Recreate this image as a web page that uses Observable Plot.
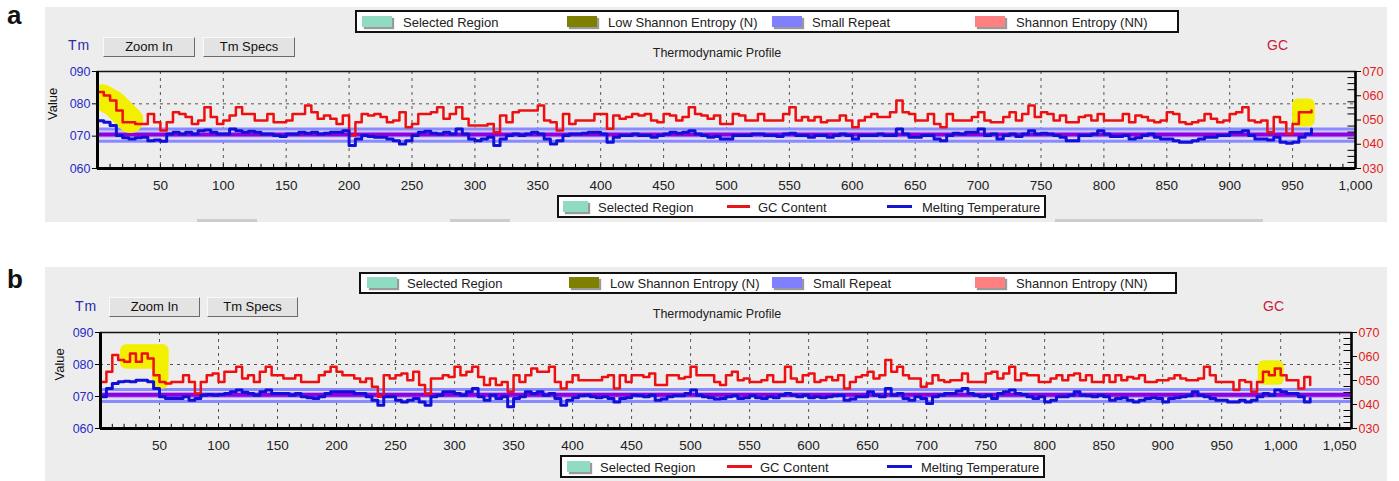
<!DOCTYPE html>
<html><head><meta charset="utf-8">
<script src="https://cdn.jsdelivr.net/npm/d3@7"></script>
<script src="https://cdn.jsdelivr.net/npm/@observablehq/plot@0.6"></script>
<style>
body{margin:0;background:#fff;}
#root{position:relative;width:1399px;height:481px;overflow:hidden;font-family:"Liberation Sans",Arial,sans-serif;}
.panel{position:absolute;background:#ededed;}
.legend{position:absolute;background:#fff;border:2px solid #111;box-sizing:border-box;}
.sw{position:absolute;height:11px;box-shadow:2px 2px 1px #9a9a9a;}
.ln{position:absolute;height:3px;}
.lt{position:absolute;font-size:13px;color:#222;line-height:1;white-space:nowrap;transform:translateY(-50%);}
.btn{position:absolute;height:20px;box-sizing:border-box;background:#e3e3e3;border:1px solid;border-color:#fafafa #6a6a6a #6a6a6a #fafafa;font-size:13px;text-align:center;line-height:18px;color:#111;}
.letter{position:absolute;font-size:26px;font-weight:bold;line-height:1;color:#111;}
.strip{position:absolute;height:3px;background:#cdcdcd;}
</style></head><body><div id="root"></div>
<script>
// ---------- data ----------
const STEP = 5; // sequence positions are sampled every 5 bases
const tmTicks = [60, 70, 80, 90];
const gcTicks = [30, 40, 50, 60, 70];
const xTicksA = [50,100,150,200,250,300,350,400,450,500,550,600,650,700,750,800,850,900,950,1000];
const xTicksB = [50,100,150,200,250,300,350,400,450,500,550,600,650,700,750,800,850,900,950,1000,1050];

const gcA = [61.5,60.1,58.0,53.9,49.1,49.1,48.4,48.4,52.5,49.1,
45.7,49.1,53.2,52.5,51.2,48.4,49.8,55.3,51.2,48.4,
49.8,51.9,55.3,52.5,52.5,49.8,49.8,52.5,49.1,49.1,
49.8,52.5,52.5,56.0,53.2,50.5,51.9,50.5,48.4,51.9,
43.6,49.1,52.5,51.9,52.5,51.2,49.1,49.8,53.2,47.0,
48.4,52.5,52.5,53.2,55.3,50.5,52.5,55.3,50.5,47.7,
47.7,47.7,48.4,45.0,51.9,49.1,53.2,53.9,53.9,53.9,
56.0,49.8,49.1,45.7,52.5,48.4,49.8,49.8,49.8,52.5,
52.5,46.4,51.9,50.5,51.2,52.5,51.9,52.5,49.8,49.1,
52.5,51.9,49.8,51.2,55.3,52.5,51.9,50.5,51.9,48.4,
48.4,52.5,51.9,49.8,49.8,52.5,49.8,49.8,49.8,52.5,
55.3,49.8,51.2,49.8,51.2,49.1,49.8,49.8,51.9,49.8,
47.0,49.8,51.2,52.5,51.2,51.2,53.2,58.0,53.2,52.5,
49.8,49.8,52.5,48.4,47.0,52.5,49.8,49.8,49.8,51.2,
53.2,49.8,49.1,49.1,51.2,53.2,49.8,52.5,56.0,51.2,
53.2,52.5,49.8,51.9,49.1,49.1,51.2,51.9,49.8,52.5,
49.8,49.8,49.8,52.5,49.1,51.9,51.2,49.8,49.1,49.8,
53.2,52.5,49.1,48.4,49.1,49.8,52.5,50.5,49.1,49.8,
52.5,53.2,55.3,49.8,49.1,49.8,45.0,51.2,49.1,44.3,
48.4,53.2,53.2,53.9];

const tmA = [74.8,74.3,73.3,70.2,69.5,69.1,69.5,69.7,68.6,68.8,
68.4,70.7,71.2,70.7,71.2,70.7,71.7,71.9,71.2,70.7,
70.7,72.2,71.7,71.2,71.5,71.2,70.7,70.7,70.2,69.9,
70.7,70.7,71.2,70.9,71.2,70.7,70.9,71.2,71.2,71.7,
67.1,69.1,70.2,69.9,69.7,69.7,69.1,68.6,67.6,68.6,
70.2,71.2,71.5,70.9,70.7,71.2,70.7,72.2,70.7,69.1,
68.6,69.1,69.7,67.1,69.1,70.2,70.7,70.2,70.7,71.2,
70.7,69.1,67.6,68.6,70.2,70.7,70.7,70.9,71.2,71.2,
70.7,68.1,69.7,70.2,70.2,70.7,70.2,70.2,69.7,70.2,
70.7,71.2,70.9,71.2,71.7,70.7,70.2,69.7,69.9,69.1,
69.1,70.2,70.2,70.2,70.7,70.7,70.2,70.2,69.9,70.7,
70.9,70.2,70.2,69.7,70.2,70.2,69.7,70.2,70.7,70.2,
69.1,70.2,70.2,70.2,70.7,70.2,70.2,72.2,70.7,69.7,
69.7,70.2,70.2,69.1,68.6,70.2,70.9,70.7,71.2,71.2,
72.2,70.2,70.7,69.1,70.2,70.7,69.9,70.7,71.7,70.7,
70.9,70.7,70.2,69.7,68.6,68.6,70.2,70.2,70.7,71.7,
70.7,69.9,69.9,70.2,69.1,69.5,70.2,70.7,69.7,69.1,
69.1,68.6,68.1,68.1,68.6,69.1,69.7,69.7,70.2,70.2,
71.2,71.2,71.7,70.2,69.1,69.1,68.8,69.7,68.1,67.8,
68.1,69.7,70.7,72.2];

const gcB = [49.4,53.6,60.6,58.5,57.8,61.3,57.8,61.3,59.2,52.2,
49.4,48.8,49.4,49.4,52.2,49.4,44.6,49.4,52.2,52.9,
49.4,53.6,53.6,55.7,50.8,52.2,49.4,53.6,55.7,52.2,
52.2,50.8,50.8,52.2,49.4,49.4,49.4,52.2,53.6,55.7,
53.6,52.2,52.2,50.8,49.4,50.8,47.4,43.2,52.2,50.8,
52.2,52.9,50.1,53.6,48.1,44.6,50.8,50.8,52.2,51.5,
55.7,52.2,53.6,55.7,51.5,48.1,50.8,48.1,49.4,45.3,
52.2,49.4,52.2,55.0,53.6,53.6,55.7,49.4,46.7,49.4,
52.2,50.1,50.1,50.1,50.1,51.5,52.2,46.7,52.2,49.4,
52.2,52.2,51.5,52.9,48.1,48.1,52.2,52.2,50.8,51.5,
55.7,52.2,52.2,52.2,49.4,48.1,52.2,53.6,50.1,50.8,
49.4,49.4,50.1,52.2,49.4,49.4,55.7,50.8,49.4,52.2,
52.9,49.4,50.1,51.5,50.1,52.2,46.7,49.4,51.5,52.2,
53.6,50.8,52.2,58.5,53.6,55.7,52.2,50.8,50.8,47.4,
48.8,52.2,50.1,49.4,50.1,50.1,52.9,49.4,49.4,49.4,
52.9,53.6,50.8,52.9,55.7,50.1,52.9,52.2,52.2,49.4,
49.4,50.8,52.2,50.1,52.2,52.9,50.1,52.2,49.4,49.4,
52.2,49.4,52.2,50.1,51.5,50.8,52.2,49.4,49.4,50.1,
50.1,50.8,52.2,50.8,50.1,50.1,50.8,55.7,52.2,49.4,
49.4,49.4,46.0,50.1,49.4,45.3,49.4,53.6,52.2,55.0,
52.2,50.1,50.1,46.7,51.5,48.1];

const tmB = [69.9,72.5,74.1,74.6,74.8,74.6,75.1,75.1,74.6,72.5,
69.9,69.4,69.4,69.4,69.9,68.8,69.4,70.4,70.6,70.4,
70.6,70.9,71.5,72.0,71.3,70.9,70.4,71.5,72.0,70.9,
70.9,70.9,70.4,70.9,69.9,69.6,69.4,69.9,70.9,71.5,
71.5,71.5,71.5,70.9,70.9,69.9,68.8,67.3,69.9,69.9,
68.8,68.3,68.8,69.4,68.3,67.3,69.9,70.4,71.5,71.5,
70.9,70.4,71.5,72.5,69.9,68.8,70.4,69.4,69.9,66.8,
69.4,69.9,71.5,70.9,71.5,70.4,70.9,69.4,67.3,68.8,
69.6,70.2,70.4,69.9,69.6,69.9,69.4,68.3,69.4,69.6,
70.4,70.2,69.9,70.4,68.8,69.2,69.9,70.2,70.2,70.9,
72.0,70.4,69.9,69.6,69.2,69.4,69.9,70.2,69.4,69.6,
70.2,69.6,69.4,69.9,69.6,70.4,70.9,70.4,69.9,70.4,
69.6,69.9,69.6,69.9,70.2,70.4,68.8,69.2,69.9,69.9,
71.5,70.4,69.9,72.5,70.4,70.9,69.4,68.8,69.9,69.4,
67.8,69.9,70.4,70.9,70.9,71.7,72.5,70.9,70.4,69.9,
70.4,69.4,70.9,71.5,72.0,70.9,70.6,69.9,69.4,69.9,
68.3,68.8,69.9,69.9,70.4,71.5,70.4,70.2,69.9,70.4,
69.9,68.8,69.4,69.6,68.8,68.3,68.8,69.4,69.6,69.4,
68.3,69.4,69.6,69.9,70.2,71.5,70.4,69.9,69.4,68.8,
68.8,68.3,68.3,68.8,68.3,68.8,69.9,70.9,70.4,72.0,
71.5,70.9,70.9,69.9,68.3,69.4];

// Tm specification band (Tm units)
const bandEdges = [72.2, 68.4];
const bandCore = [69.6, 71.1];
// yellow highlighter marks (x in bases, y in Tm units)
const smearA = [[4, 82], [13, 80], [26, 75]];
const boxesA = [[950, 968, 72.8, 81.5]];
const boxesB = [[17, 58, 78.5, 86.2], [44, 58, 72.3, 86.2], [981, 1003, 73.5, 81.2]];

const legendTopNames = ["Selected Region", "Low Shannon Entropy (N)", "Small Repeat", "Shannon Entropy (NN)"];
const legendTopColors = ["#8fdcc2", "#808000", "#8080ff", "#ff8080"];
const legendBottomNames = ["Selected Region", "GC Content", "Melting Temperature"];
const legendBottomColors = ["#8fdcc2", "#e8141c", "#1414d0"];

// ---------- layout ----------
const layoutA = {
  letter: ["a", 7, 2], panel: [45, 7, 1342, 215],
  svg: {left: 45, top: 7, w: 1342, h: 215, ml: 52, mr: 32, mt: 64, mb: 54, valueDx: -45},
  xMax: 1000, xTicks: xTicksA, gc: gcA, tm: tmA, smear: smearA, boxes: boxesA,
  top: {box: [355, 10, 824, 23], sw: [362, 567, 772, 975], tx: [403, 608, 812, 1016]},
  tmLabel: [68, 45], btn: [[103, 37, 92], [203, 37, 92]], title: [717, 53], gcLabel: [1267, 45],
  bottom: {box: [557, 195, 489, 23], sw: [563, 588], red: [727, 750], blue: [887, 912], tx: [598, 758, 922]},
  strips: [[197, 257], [450, 510], [1055, 1263]], stripY: 219
};
const layoutB = {
  letter: ["b", 7, 266], panel: [45, 267, 1342, 214],
  svg: {left: 45, top: 267, w: 1342, h: 214, ml: 55, mr: 36, mt: 65, mb: 53, valueDx: -41},
  xMax: 1060, xTicks: xTicksB, gc: gcB, tm: tmB, smear: null, boxes: boxesB,
  top: {box: [359, 272, 818, 22], sw: [367, 569, 772, 975], tx: [407, 610, 813, 1016]},
  tmLabel: [75, 306], btn: [[109, 297, 91], [207, 297, 91]], title: [717, 314], gcLabel: [1263, 306],
  bottom: {box: [560, 455, 485, 23], sw: [567, 590], red: [727, 752], blue: [887, 912], tx: [600, 760, 921]},
  strips: [], stripY: 0
};

const root = document.getElementById("root");
function el(cls, style, text) {
  const d = document.createElement("div");
  d.className = cls;
  Object.assign(d.style, style);
  if (text != null) d.textContent = text;
  root.appendChild(d);
  return d;
}
const px = v => v + "px";
const toY = gc => 60 + (gc - 30) * 0.75; // GC axis (30-70) drawn on the Tm axis (60-90)
const fmt3 = d3.format("03d");

function chart(L) {
  const s = L.svg;
  const gcData = L.gc.map((v, i) => ({x: i * STEP, y: toY(v)}));
  const tmData = L.tm.map((v, i) => ({x: i * STEP, y: v}));
  const minorX = d3.range(10, L.xMax, 10);
  const minorGC = d3.range(32.5, 70, 2.5).filter(v => v % 10 !== 0).map(toY);
  const marks = [
    Plot.ruleX(L.xTicks, {stroke: "#555", strokeDasharray: "3,4"}),
    Plot.ruleY([70, 80], {stroke: "#555", strokeDasharray: "3,4"}),
    Plot.rect([bandEdges], {x1: 0, x2: L.xMax, y1: d => d[0], y2: d => d[1], fill: "#dedef4"}),
    Plot.ruleY(bandEdges, {stroke: "#8a8aff", strokeWidth: 3}),
    Plot.rect([bandCore], {x1: 0, x2: L.xMax, y1: d => d[0], y2: d => d[1], fill: "#9400dc", stroke: "#b0a0ff", strokeWidth: 1})
  ];
  if (L.smear) marks.push(Plot.line(L.smear, {x: d => d[0], y: d => d[1], stroke: "#f3ef00", strokeWidth: 26, strokeLinecap: "round", clip: true}));
  marks.push(Plot.rect(L.boxes, {x1: d => d[0], x2: d => d[1], y1: d => d[2], y2: d => d[3], fill: "#f3ef00", rx: 6}));
  marks.push(
    Plot.line(gcData, {x: "x", y: "y", stroke: "#ee1010", strokeWidth: 2.5, curve: "step-after"}),
    Plot.line(tmData, {x: "x", y: "y", stroke: "#1010d8", strokeWidth: 3, curve: "step-after"}),
    Plot.frame({stroke: "#111", strokeWidth: 1.5}),
    Plot.ruleX([0], {stroke: "#000", strokeWidth: 3}),
    Plot.ruleY([60], {stroke: "#000", strokeWidth: 3}),
    Plot.ruleX([L.xMax], {stroke: "#000", strokeWidth: 2.5}),
    Plot.ruleX(minorX, {y1: 60, y2: 61.3, stroke: "#000"}),
    Plot.ruleY(minorGC, {x1: L.xMax * 0.994, x2: L.xMax, stroke: "#000"}),
    Plot.axisX({ticks: L.xTicks, tickFormat: d3.format(","), tickSize: 0, tickPadding: 12, fill: "#222", fontSize: 13.5, label: null}),
    Plot.axisY({ticks: tmTicks, tickFormat: d => fmt3(d), tickSize: 5, tickPadding: 2, fill: "#2b2bc4", stroke: "#000", fontSize: 12.5, label: null}),
    Plot.axisY({anchor: "right", ticks: gcTicks.map(toY), tickFormat: d => fmt3(Math.round((d - 60) / 0.75 + 30)), tickSize: 5, tickPadding: 2, fill: "#e21b1b", stroke: "#000", fontSize: 12.5, label: null}),
    Plot.text(["Value"], {frameAnchor: "left", dx: s.valueDx, rotate: -90, fill: "#111", fontSize: 13})
  );
  const svg = Plot.plot({
    width: s.w, height: s.h,
    marginLeft: s.ml, marginRight: s.mr, marginTop: s.mt, marginBottom: s.mb,
    style: {background: "#ededed", fontFamily: "Liberation Sans, Arial, sans-serif", fontSize: "13px", overflow: "visible"},
    x: {domain: [0, L.xMax]},
    y: {domain: [60, 90]},
    marks
  });
  svg.style.position = "absolute";
  svg.style.left = px(s.left);
  svg.style.top = px(s.top);
  svg.style.maxWidth = "none";
  root.appendChild(svg);
}

function panel(L) {
  el("letter", {left: px(L.letter[1]), top: px(L.letter[2])}, L.letter[0]);
  el("panel", {left: px(L.panel[0]), top: px(L.panel[1]), width: px(L.panel[2]), height: px(L.panel[3])});
  chart(L);
  for (const [a, b] of L.strips) el("strip", {left: px(a), top: px(L.stripY), width: px(b - a)});
  // top legend
  const t = L.top;
  el("legend", {left: px(t.box[0]), top: px(t.box[1]), width: px(t.box[2]), height: px(t.box[3])});
  const cy = t.box[1] + t.box[3] / 2;
  legendTopNames.forEach((n, i) => {
    el("sw", {left: px(t.sw[i]), top: px(cy - 6), width: "30px", background: legendTopColors[i]});
    el("lt", {left: px(t.tx[i]), top: px(cy)}, n);
  });
  // header texts and buttons
  el("lt", {left: px(L.tmLabel[0]), top: px(L.tmLabel[1]), color: "#2b2ba8", fontSize: "14px", letterSpacing: "1px"}, "Tm");
  el("btn", {left: px(L.btn[0][0]), top: px(L.btn[0][1]), width: px(L.btn[0][2])}, "Zoom In");
  el("btn", {left: px(L.btn[1][0]), top: px(L.btn[1][1]), width: px(L.btn[1][2])}, "Tm Specs");
  el("lt", {left: px(L.title[0]), top: px(L.title[1]), transform: "translate(-50%,-50%)", fontSize: "12.5px", color: "#222"}, "Thermodynamic Profile");
  el("lt", {left: px(L.gcLabel[0]), top: px(L.gcLabel[1]), color: "#c8203a", fontSize: "14px"}, "GC");
  // bottom legend
  const b = L.bottom;
  el("legend", {left: px(b.box[0]), top: px(b.box[1]), width: px(b.box[2]), height: px(b.box[3])});
  const by = b.box[1] + b.box[3] / 2;
  el("sw", {left: px(b.sw[0]), top: px(by - 6), width: px(b.sw[1] - b.sw[0]), background: legendBottomColors[0]});
  el("ln", {left: px(b.red[0]), top: px(by - 1.5), width: px(b.red[1] - b.red[0]), background: legendBottomColors[1]});
  el("ln", {left: px(b.blue[0]), top: px(by - 1.5), width: px(b.blue[1] - b.blue[0]), background: legendBottomColors[2]});
  legendBottomNames.forEach((n, i) => el("lt", {left: px(b.tx[i]), top: px(by)}, n));
}

panel(layoutA);
panel(layoutB);
</script></body></html>
